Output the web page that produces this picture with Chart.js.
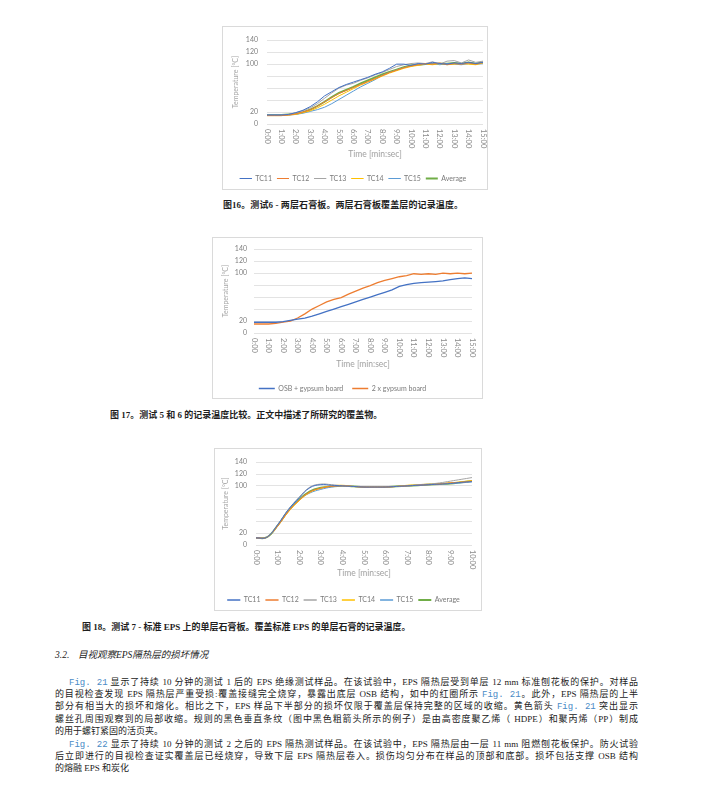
<!DOCTYPE html>
<html>
<head>
<meta charset="utf-8">
<script src="https://cdn.jsdelivr.net/npm/chart.js@4.4.1/dist/chart.umd.min.js"></script>
<style>
html, body { margin: 0; padding: 0; background: #fff; }
body { width: 706px; height: 788px; position: relative; overflow: hidden; }
.box { position: absolute; border: 1px solid #dadada; background: #fff; overflow: hidden; }
.box canvas { display: block; }
.cap { position: absolute; font-family: "Liberation Serif", "Noto Sans CJK SC", serif; font-weight: 700;
       font-size: 9px; line-height: 12px; color: #1e1e1e; white-space: nowrap; text-align: justify; text-align-last: justify; }
.head { position: absolute; top: 649px; font-family: "Liberation Serif", "Noto Sans CJK SC", serif; font-style: italic;
        font-size: 9.5px; line-height: 12px; color: #222; white-space: nowrap; }
.ln { position: absolute; left: 55px; width: 583px; height: 12px; line-height: 12px; font-size: 9px; color: #222;
      font-family: "Liberation Serif", "Noto Sans CJK SC", serif; text-align: justify; text-align-last: justify; }
.ln.ind { left: 69px; width: 569px; }
.ln.end { text-align-last: left; }
.fig { font-family: "Liberation Mono", monospace; color: #4a8bc6; }
</style>
</head>
<body>

<div class="box" style="left:222px; top:26px;"><canvas id="c16" width="264" height="162"></canvas></div>
<div class="cap" style="left:223px; top:199px; width:240px;">图16。测试6 - 两层石膏板。两层石膏板覆盖层的记录温度。</div>

<div class="box" style="left:212px; top:237px;"><canvas id="c17" width="269" height="160"></canvas></div>
<div class="cap" style="left:110px; top:409px; width:270px;">图 17。测试 5 和 6 的记录温度比较。正文中描述了所研究的覆盖物。</div>

<div class="box" style="left:214px; top:448px;"><canvas id="c18" width="266" height="161"></canvas></div>
<div class="cap" style="left:82px; top:621px; width:321px;">图 18。测试 7 - 标准 EPS 上的单层石膏板。覆盖标准 EPS 的单层石膏的记录温度。</div>

<div class="head" style="left:55px;">3.2.</div>
<div class="head" style="left:78px;">目视观察EPS隔热层的损坏情况</div>

<div class="ln ind" style="top:676px;"><span class="fig">Fig. 21</span> 显示了持续 10 分钟的测试 1 后的 EPS 绝缘测试样品。在该试验中，EPS 隔热层受到单层 12 mm 标准刨花板的保护。对样品</div>
<div class="ln" style="top:688px;">的目视检查发现 EPS 隔热层严重受损:覆盖接缝完全烧穿，暴露出底层 OSB 结构，如中的红圈所示 <span class="fig">Fig. 21</span>。此外，EPS 隔热层的上半</div>
<div class="ln" style="top:700px;">部分有相当大的损坏和熔化。相比之下，EPS 样品下半部分的损坏仅限于覆盖层保持完整的区域的收缩。黄色箭头 <span class="fig">Fig. 21</span> 突出显示</div>
<div class="ln" style="top:712.5px;">螺丝孔周围观察到的局部收缩。规则的黑色垂直条纹（图中黑色粗箭头所示的例子）是由高密度聚乙烯（ HDPE）和聚丙烯（PP）制成</div>
<div class="ln end" style="top:724.5px;">的用于螺钉紧固的活页夹。</div>
<div class="ln ind" style="top:737.5px;"><span class="fig">Fig. 22</span> 显示了持续 10 分钟的测试 2 之后的 EPS 隔热测试样品。在该试验中，EPS 隔热层由一层 11 mm 阻燃刨花板保护。防火试验</div>
<div class="ln" style="top:749.5px;">后立即进行的目视检查证实覆盖层已经烧穿，导致下层 EPS 隔热层卷入。损伤均匀分布在样品的顶部和底部。损坏包括支撑 OSB 结构</div>
<div class="ln end" style="top:761.5px;">的熔融 EPS 和炭化</div>

<script>
// time axis in minutes, values in °C

// Fig. 16 - test 6, two gypsum boards
const TIME_16 = [0, 0.5, 1, 1.5, 2, 2.5, 3, 3.5, 4, 4.5, 5, 5.5, 6, 6.5, 7, 7.5, 8, 8.5, 9, 9.5, 10, 10.5, 11, 11.5, 12, 12.5, 13, 13.5, 14, 14.5, 15];
const TC11_16 = [15, 15, 15, 16, 19, 23, 29, 37, 47, 54, 61, 66, 70, 74, 78, 83, 87, 93, 100, 100, 98, 101, 100, 103, 101, 100, 102, 101, 103, 101, 103];
const TC12_16 = [14, 14, 14, 15, 17, 20, 24, 30, 37, 44, 51, 56, 61, 66, 71, 76, 81, 86, 90, 94, 97, 99, 101, 100, 102, 99, 101, 100, 102, 100, 103];
const TC13_16 = [15, 15, 15, 16, 19, 22, 27, 34, 43, 52, 60, 65, 68, 73, 77, 82, 86, 91, 96, 99, 101, 102, 101, 104, 100, 105, 106, 102, 107, 103, 105];
const TC14_16 = [14, 14, 14, 15, 16, 19, 22, 27, 33, 40, 47, 53, 59, 65, 70, 75, 80, 85, 89, 93, 96, 98, 100, 99, 101, 99, 100, 101, 100, 99, 102];
const TC15_16 = [15, 15, 15, 15, 16, 18, 21, 24, 28, 34, 41, 48, 55, 62, 68, 74, 81, 86, 90, 94, 97, 99, 100, 101, 99, 101, 100, 99, 101, 100, 101];
const AVG_16  = [15, 15, 15, 16, 17, 20, 24, 30, 37, 45, 52, 57, 62, 68, 73, 78, 83, 87, 91, 95, 98, 99, 100, 101, 101, 101, 102, 101, 103, 101, 103];

// Fig. 17 - tests 5 and 6
const TIME_17 = [0, 0.5, 1, 1.5, 2, 2.5, 3, 3.5, 4, 4.5, 5, 5.5, 6, 6.5, 7, 7.5, 8, 8.5, 9, 9.5, 10, 10.5, 11, 11.5, 12, 12.5, 13, 13.5, 14, 14.5, 15];
const OSB_17  = [18, 18, 18, 18, 19, 21, 23, 25, 28, 32, 36, 40, 44, 48, 52, 56, 60, 64, 68, 72, 78, 81, 83, 84, 85, 86, 87, 89, 91, 92, 91];
const GYP_17  = [15, 15, 15, 16, 18, 20, 25, 32, 40, 46, 52, 56, 59, 65, 70, 75, 79, 84, 88, 91, 94, 96, 99, 98, 99, 98, 100, 99, 100, 99, 100];

// Fig. 18 - test 7, single gypsum board on standard EPS
const TIME_18 = [0, 0.5, 1, 1.5, 2, 2.5, 3, 3.5, 4, 4.5, 5, 5.5, 6, 6.5, 7, 7.5, 8, 8.5, 9, 9.5, 10];
const TC11_18 = [12, 13, 34, 60, 80, 97, 102, 101, 100, 99, 98, 98, 98, 99, 100, 101, 102, 103, 104, 106, 107];
const TC12_18 = [12, 13, 32, 57, 76, 90, 96, 99, 100, 99, 98, 98, 98, 99, 100, 101, 102, 103, 105, 106, 108];
const TC13_18 = [12, 13, 34, 60, 81, 98, 103, 102, 100, 99, 98, 98, 98, 99, 100, 102, 103, 105, 108, 111, 114];
const TC14_18 = [12, 13, 32, 56, 75, 89, 96, 100, 101, 99, 98, 98, 98, 99, 101, 102, 103, 104, 105, 107, 109];
const TC15_18 = [12, 13, 33, 58, 77, 88, 94, 98, 100, 99, 98, 98, 98, 99, 100, 101, 102, 103, 104, 105, 107];
const AVG_18  = [12, 13, 33, 58, 77, 91, 97, 99, 100, 99, 98, 98, 98, 99, 100, 101, 102, 103, 104, 106, 108];

const TC_LABELS = ['TC11', 'TC12', 'TC13', 'TC14', 'TC15', 'Average'];
const CMP_LABELS = ['OSB + gypsum board', '2 x gypsum board'];
const Y_TICKS_BLANK = [40, 60, 80];   // these labels are lost in the scan

const FONT = 'Lato';
const COLORS = {
    tc11: '#4472c4', tc12: '#ed7d31', tc13: '#a5a5a5', tc14: '#ffc000', tc15: '#5b9bd5', avg: '#70ad47',
};

function pts(times, vals) {
    return times.map((t, i) => ({ x: t, y: vals[i] }));
}

function ds(label, times, vals, color, width, tension) {
    return { label, data: pts(times, vals), borderColor: color, backgroundColor: color,
             borderWidth: width, pointRadius: 0, tension: tension || 0 };
}

// x tick labels hang down from the axis, rotated a quarter turn
const hangingTicks = {
    id: 'hangingTicks',
    afterDraw(chart) {
        const sc = chart.scales.x, ctx = chart.ctx;
        ctx.save();
        ctx.font = '7.5px ' + FONT;
        ctx.fillStyle = '#8a8a8a';
        ctx.textAlign = 'left';
        ctx.textBaseline = 'middle';
        sc.ticks.forEach(t => {
            ctx.save();
            ctx.translate(sc.getPixelForValue(t.value), sc.top + 5);
            ctx.rotate(Math.PI / 2);
            ctx.fillText(t.value + ':00', 0, 0);
            ctx.restore();
        });
        ctx.restore();
    }
};

function makeChart(id, datasets, xMax, g) {
    return new Chart(document.getElementById(id), {
        type: 'line',
        data: { datasets },
        plugins: [hangingTicks],
        options: {
            responsive: false, animation: false, devicePixelRatio: 1,
            layout: { padding: { left: 0, top: g.padTop, right: g.padRight, bottom: g.padBottom } },
            plugins: {
                tooltip: { enabled: false },
                legend: {
                    position: 'bottom',
                    // zero-height box: the legend marker is drawn as a short line
                    labels: { boxWidth: g.legendLine, boxHeight: 0, color: '#7a7a7a', padding: g.legendPad,
                              font: { family: FONT, size: 7 } }
                }
            },
            scales: {
                x: {
                    type: 'linear', min: 0, max: xMax,
                    ticks: { stepSize: 1, display: false },
                    grid: { display: false }, border: { display: false },
                    title: { display: true, text: 'Time [min:sec]', color: '#a0a0a0',
                             font: { family: FONT, size: 8.5 }, padding: { top: 0, bottom: g.xTitlePad } },
                    afterFit: s => { s.height = g.xHeight; }
                },
                y: {
                    min: 0, max: 140,
                    ticks: { stepSize: 20, autoSkip: false, padding: g.tickPad, color: '#808080',
                             font: { family: FONT, size: 7 },
                             callback: v => Y_TICKS_BLANK.includes(v) ? '' : v },
                    grid: { color: '#e3e3e3', drawTicks: false }, border: { display: false },
                    title: { display: true, text: 'Temperature [°C]', color: '#a6a6a6',
                             font: { family: FONT, size: 7 }, padding: { top: g.yTitlePad, bottom: 0 } },
                    afterFit: s => { s.width = g.yWidth; }
                }
            }
        }
    });
}

makeChart('c16', [
    ds(TC_LABELS[0], TIME_16, TC11_16, COLORS.tc11, 1),
    ds(TC_LABELS[1], TIME_16, TC12_16, COLORS.tc12, 1),
    ds(TC_LABELS[2], TIME_16, TC13_16, COLORS.tc13, 1),
    ds(TC_LABELS[3], TIME_16, TC14_16, COLORS.tc14, 1),
    ds(TC_LABELS[4], TIME_16, TC15_16, COLORS.tc15, 1),
    ds(TC_LABELS[5], TIME_16, AVG_16,  COLORS.avg, 1.8),
], 15, { padTop: 8, padRight: 4, padBottom: -3, yWidth: 44, yTitlePad: 8.5, tickPad: 9,
         xHeight: 46, xTitlePad: 11, legendLine: 12, legendPad: 5 });

makeChart('c17', [
    ds(CMP_LABELS[0], TIME_17, OSB_17, COLORS.tc11, 1.3),
    ds(CMP_LABELS[1], TIME_17, GYP_17, COLORS.tc12, 1.3),
], 15, { padTop: 6, padRight: 10, padBottom: -4, yWidth: 41, yTitlePad: 8.5, tickPad: 7,
         xHeight: 43, xTitlePad: 7, legendLine: 16, legendPad: 9 });

makeChart('c18', [
    ds(TC_LABELS[0], TIME_18, TC11_18, COLORS.tc11, 1, 0.4),
    ds(TC_LABELS[1], TIME_18, TC12_18, COLORS.tc12, 1, 0.4),
    ds(TC_LABELS[2], TIME_18, TC13_18, COLORS.tc13, 1, 0.4),
    ds(TC_LABELS[3], TIME_18, TC14_18, COLORS.tc14, 1, 0.4),
    ds(TC_LABELS[4], TIME_18, TC15_18, COLORS.tc15, 1, 0.4),
    ds(TC_LABELS[5], TIME_18, AVG_18,  COLORS.avg, 1.8, 0.4),
], 10, { padTop: 6, padRight: 9, padBottom: -3.5, yWidth: 41, yTitlePad: 6.5, tickPad: 9,
         xHeight: 46.5, xTitlePad: 13, legendLine: 13, legendPad: 5 });
</script>
</body>
</html>
